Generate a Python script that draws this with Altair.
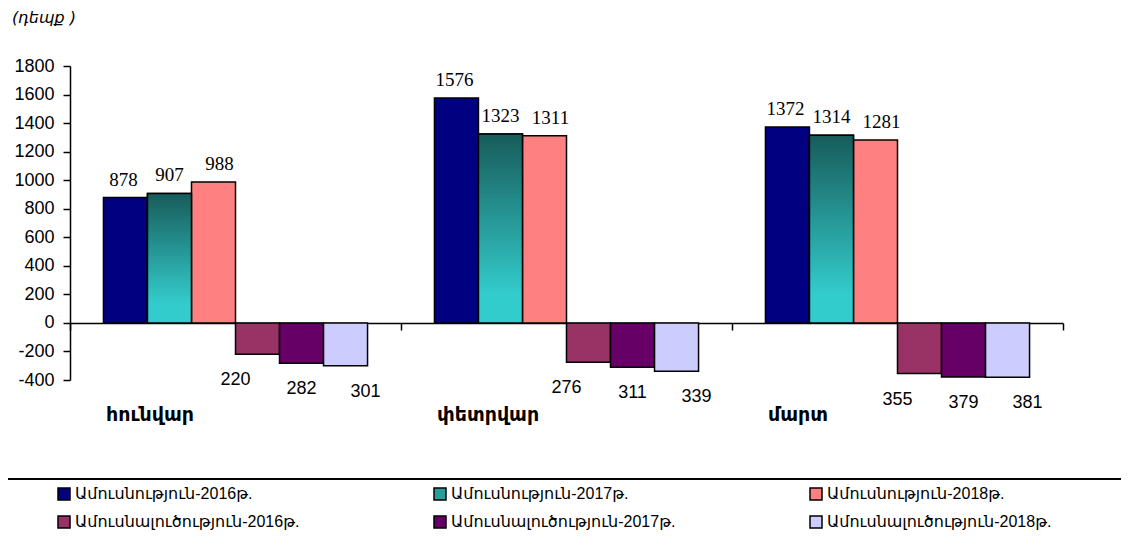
import altair as alt
import pandas as pd

months = ["հունվար", "փետրվար", "մարտ"]
series = [
    "Ամուսնություն-2016թ.",
    "Ամուսնություն-2017թ.",
    "Ամուսնություն-2018թ.",
    "Ամուսնալուծություն-2016թ.",
    "Ամուսնալուծություն-2017թ.",
    "Ամուսնալուծություն-2018թ.",
]
marriage_2016 = [878, 1576, 1372]
marriage_2017 = [907, 1323, 1314]
marriage_2018 = [988, 1311, 1281]
divorce_2016 = [220, 276, 355]
divorce_2017 = [282, 311, 379]
divorce_2018 = [301, 339, 381]
y_ticks = [-400, -200, 0, 200, 400, 600, 800, 1000, 1200, 1400, 1600, 1800]

colors = ["#000080", "#2a9d9b", "#ff8080", "#993366", "#660066", "#ccccff"]

values_by_series = [marriage_2016, marriage_2017, marriage_2018,
                    divorce_2016, divorce_2017, divorce_2018]
signs = [1, 1, 1, -1, -1, -1]

rows = []
for s, vals, sg in zip(series, values_by_series, signs):
    for m, v in zip(months, vals):
        rows.append({"month": m, "series": s, "value": sg * v, "label": str(v)})
df = pd.DataFrame(rows)
df_months = pd.DataFrame({"month": months})

W, H = 993, 314

x_enc = alt.X(
    "month:N",
    sort=months,
    scale=alt.Scale(domain=months, paddingInner=0, paddingOuter=0),
    axis=alt.Axis(
        title=None, orient="bottom", offset=-57, labels=False,
        domainColor="black", domainWidth=1.5,
        tickBand="extent", tickSize=7, tickColor="black", tickWidth=1.5,
    ),
)
xoff_enc = alt.XOffset(
    "series:N", sort=series,
    scale=alt.Scale(domain=series, paddingInner=0, paddingOuter=0.76),
)
y_enc = alt.Y(
    "value:Q",
    scale=alt.Scale(domain=[-400, 1800], nice=False, zero=False),
    axis=alt.Axis(
        title=None, values=y_ticks, labelExpr="'' + datum.value", grid=False,
        domainColor="black", domainWidth=1.5, tickColor="black", tickWidth=1.5,
        tickSize=7, labelFont="Liberation Sans", labelFontSize=18,
        labelColor="black", labelPadding=9,
    ),
)

base = alt.Chart(df)

bars = base.mark_bar(stroke="black", strokeWidth=1.5).encode(
    x=x_enc,
    xOffset=xoff_enc,
    y=y_enc,
    color=alt.Color(
        "series:N",
        sort=series,
        scale=alt.Scale(domain=series, range=colors),
        legend=alt.Legend(
            title=None, orient="none", legendX=-14, legendY=420,
            columns=3, direction="horizontal", gridAlign="all",
            symbolType="square", symbolSize=144, symbolStrokeColor="black",
            symbolStrokeWidth=1.5, symbolOpacity=1,
            labelFont="Liberation Sans, DejaVu Sans", labelFontSize=16,
            labelColor="black", labelOffset=3, labelLimit=400,
            columnPadding=131, rowPadding=10,
        ),
    ),
)

gradient = alt.LinearGradient(
    gradient="linear",
    stops=[
        alt.GradientStop(color="#175c5a", offset=0),
        alt.GradientStop(color="#33cccc", offset=0.85),
        alt.GradientStop(color="#33cccc", offset=1),
    ],
    x1=0, x2=0, y1=0, y2=1,
)
grad_bars = base.transform_filter(
    alt.datum.series == series[1]
).mark_bar(fill=gradient, stroke="black", strokeWidth=1.5).encode(
    x=x_enc, xOffset=xoff_enc, y=y_enc,
)

label_dx = [-2, 0, 6, -22, 0, 20]
text_layers = []
for s, sg, dx in zip(series, signs, label_dx):
    if sg > 0:
        t = base.transform_filter(alt.datum.series == s).mark_text(
            font="Liberation Serif", fontSize=19, color="black",
            baseline="alphabetic", dy=-12, dx=dx,
        )
    else:
        t = base.transform_filter(alt.datum.series == s).mark_text(
            font="Liberation Sans", fontSize=18, color="black",
            baseline="top", dy=17, dx=dx,
        )
    text_layers.append(
        t.encode(x=x_enc, xOffset=xoff_enc, y=y_enc, text="label:N")
    )

month_labels = alt.Chart(df_months).mark_text(
    font="DejaVu Sans", fontWeight="bold", fontSize=19, color="black",
    align="left", baseline="middle", dx=36,
).encode(
    x=alt.X("month:N", sort=months, bandPosition=0),
    y=alt.value(H + 35),
    text="month:N",
)

legend_box = alt.Chart(df_months).mark_rect(
    fill=None, stroke="black", strokeWidth=1.5
).encode(
    x=alt.value(-63), x2=alt.value(W + 120),
    y=alt.value(413), y2=alt.value(H + 200),
)

chart = alt.layer(legend_box, bars, grad_bars, *text_layers, month_labels).properties(
    width=W, height=H,
    background="white",
    title=alt.TitleParams(
        "(դեպք )", anchor="start", frame="group", dx=-58, offset=31,
        font="DejaVu Sans", fontStyle="italic", fontWeight="normal",
        fontSize=16, color="black",
    ),
    autosize=alt.AutoSizeParams(type="none"),
    padding={"left": 62, "top": 58, "right": 58, "bottom": 152},
).configure_view(strokeWidth=0, stroke=None)

chart.save("out.html", embed_options={"renderer": "svg", "actions": False})
